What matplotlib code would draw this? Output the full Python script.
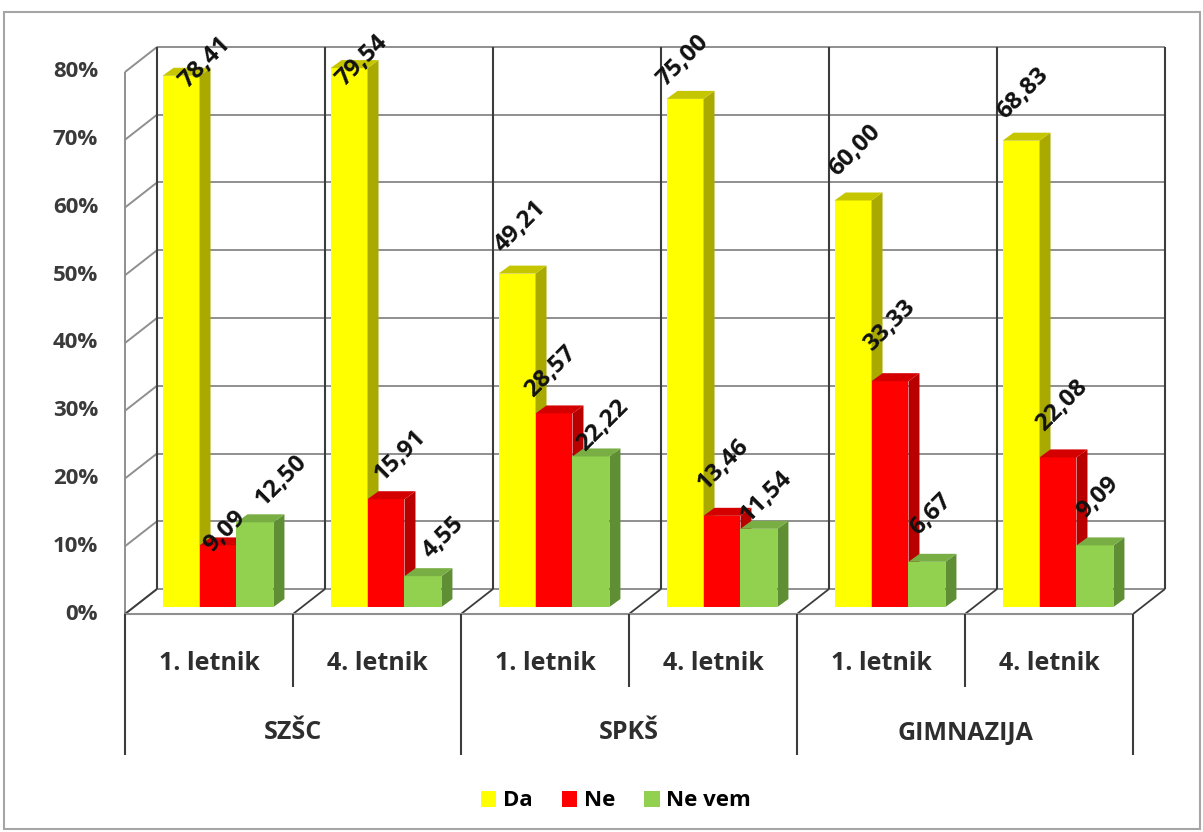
import matplotlib
matplotlib.use("Agg")
import matplotlib.pyplot as plt
from matplotlib.patches import Polygon, Rectangle, Patch

# ---- data -------------------------------------------------------------
groups = ["SZŠC", "SPKŠ", "GIMNAZIJA"]
years = ["1. letnik", "4. letnik"]
series_names = ["Da", "Ne", "Ne vem"]
da = [78.41, 79.54, 49.21, 75.00, 60.00, 68.83]
ne = [9.09, 15.91, 28.57, 13.46, 33.33, 22.08]
ne_vem = [12.50, 4.55, 22.22, 11.54, 6.67, 9.09]
y_ticks = [0, 10, 20, 30, 40, 50, 60, 70, 80]

# ---- style / layout ---------------------------------------------------
DPI = 100
W, H = 1203, 832
FONT = ["Open Sans", "DejaVu Sans"]
front_colors = ["#FFFF00", "#FF0000", "#92D050"]
side_colors = ["#A9A900", "#B80000", "#5F8E34"]
top_colors = ["#C6C600", "#D40000", "#78AE43"]
GRID = "#8F8F8F"
DARK = "#3C3C3C"

WALL = (32, 25)        # depth of the back wall, pixels (right, up)
BAR_PLANE = (9, 7)     # bars stand slightly behind the front edge
BAR_DEPTH = (11, 8)    # thickness of each column
BAR_W = 0.22           # column width in category units

# label offsets (pixels right, up) from each column's front-top centre
label_shift = [
    [(24, 13), (13, 7), (3, 47), (-2, 38), (2, 50), (2, 47)],
    [(7, 14), (14, 44), (-3, 42), (1, 51), (0, 55), (4, 52)],
    [(26, 42), (20, 39), (12, 31), (7, 32), (4, 47), (3, 48)],
]

fig = plt.figure(figsize=(W / DPI, H / DPI), dpi=DPI)
fig.patch.set_facecolor("white")
ax = fig.add_axes([125 / W, (H - 614) / H, 1008 / W, 542 / H])
ax.set_xlim(0, 6)
ax.set_ylim(0, 80)
ax.axis("off")

fig.canvas.draw()
p0 = ax.transData.transform((0, 0))
p1 = ax.transData.transform((1, 1))
SX, SY = p1[0] - p0[0], p1[1] - p0[1]


def px(dx, dy):
    """pixel offset -> data offset"""
    return dx / SX, dy / SY


wx, wy = px(*WALL)
bx, by = px(*BAR_PLANE)
dx, dy = px(*BAR_DEPTH)
ncat = len(da)


def line(xs, ys, color, lw=1.4, z=1):
    ax.plot(xs, ys, color=color, lw=lw, clip_on=False, zorder=z,
            solid_capstyle="butt")


# back wall gridlines and left side wall
for v in y_ticks:
    line([wx, ncat + wx], [v + wy, v + wy], GRID)
    line([0, wx], [v, v + wy], GRID)
line([0, 0], [0, y_ticks[-1]], GRID)
# back wall category separators
for k in range(ncat + 1):
    line([k + wx, k + wx], [wy, y_ticks[-1] + wy], DARK, lw=1.5)
    line([k, k + wx], [0, wy], DARK, lw=1.3)
# floor front edge
line([0, ncat], [0, 0], GRID, lw=1.5)

# columns
values = [da, ne, ne_vem]
gap = (1 - 3 * BAR_W) / 2
for i in range(ncat):
    for j, vals in enumerate(values):
        v = vals[i]
        x0 = i + gap + j * BAR_W + bx
        x1 = x0 + BAR_W
        y0 = by
        y1 = by + v
        z = 5 + i * 3 + j
        ax.add_patch(Polygon([(x0, y0), (x1, y0), (x1, y1), (x0, y1)],
                             closed=True, fc=front_colors[j], ec="none",
                             zorder=z, clip_on=False))
        ax.add_patch(Polygon([(x1, y0), (x1 + dx, y0 + dy), (x1 + dx, y1 + dy),
                              (x1, y1)], closed=True, fc=side_colors[j],
                             ec="none", zorder=z, clip_on=False))
        ax.add_patch(Polygon([(x0, y1), (x1, y1), (x1 + dx, y1 + dy),
                              (x0 + dx, y1 + dy)], closed=True,
                             fc=top_colors[j], ec="none", zorder=z,
                             clip_on=False))
        sx, sy = px(*label_shift[j][i])
        ax.text((x0 + x1) / 2 + sx, y1 + sy,
                f"{v:.2f}".replace(".", ","), rotation=45,
                rotation_mode="anchor", ha="center", va="center",
                fontsize=17.5, fontweight="bold", family=FONT,
                color="#111111", zorder=50, clip_on=False)

# value axis labels
for v in y_ticks:
    ax.text(-px(27, 0)[0], v, f"{v}%", ha="right", va="center",
            fontsize=16, fontweight="bold", family=FONT, color="#3A3A3A")

# category table below the floor
y_year_line = -px(0, 73)[1]
y_group_line = -px(0, 141)[1]
for k in range(ncat + 1):
    bottom = y_group_line if k % 2 == 0 else y_year_line
    line([k, k], [0, bottom], DARK, lw=1.5)
for i in range(ncat):
    ax.text(i + 0.5, -px(0, 49)[1], years[i % 2], ha="center", va="center",
            fontsize=18, fontweight="bold", family=FONT, color="#2E2E2E")
for g, name in enumerate(groups):
    ax.text(2 * g + 1, -px(0, 119)[1], name, ha="center", va="center",
            fontsize=18, fontweight="bold", family=FONT, color="#2E2E2E")

# legend
handles = [Patch(facecolor=c, edgecolor="none") for c in front_colors]
fig.legend(handles, series_names, loc="center", ncol=3,
           bbox_to_anchor=(616 / W, 1 - 801 / H), frameon=False,
           handlelength=0.7, handleheight=0.7, handletextpad=0.3,
           columnspacing=1.3,
           prop={"family": FONT, "weight": "bold", "size": 16})

# chart border
fig.add_artist(Rectangle((4 / W, 3 / H), 1196 / W, 817 / H,
                         transform=fig.transFigure, fill=False,
                         ec="#A5A5A5", lw=1.5))

fig.savefig("out.png", dpi=DPI, facecolor="white")
